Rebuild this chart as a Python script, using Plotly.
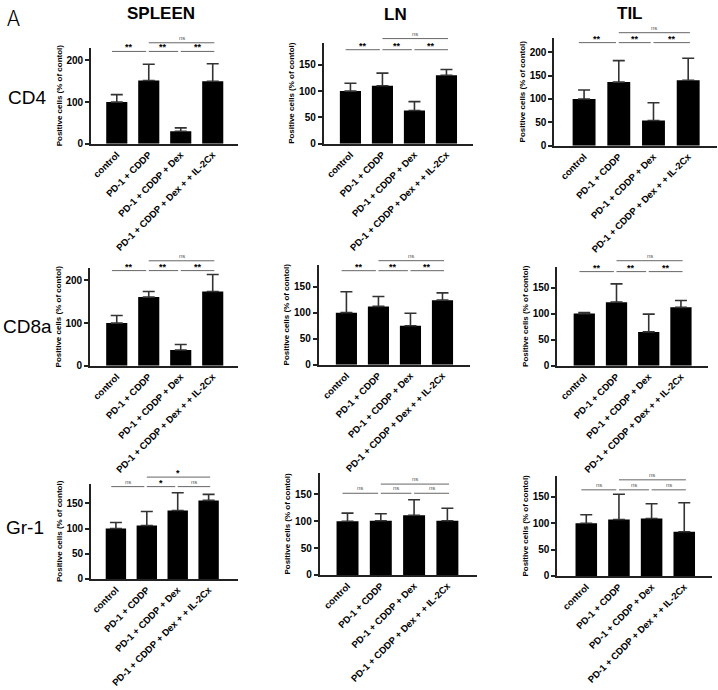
import plotly.graph_objects as go

categories = ["control", "PD-1 + CDDP", "PD-1 + CDDP + Dex", "PD-1 + CDDP + Dex + + IL-2Cx"]
tissues = ["SPLEEN", "LN", "TIL"]
markers = ["CD4", "CD8a", "Gr-1"]

# means and upper error-bar ends (% of control)
cd4_spleen_mean = [100, 152, 30, 150]
cd4_spleen_upper = [118, 191, 38, 192]
cd4_ln_mean = [100, 110, 63, 130]
cd4_ln_upper = [115, 134, 80, 141]
cd4_til_mean = [100, 136, 54, 140]
cd4_til_upper = [119, 182, 92, 187]

cd8a_spleen_mean = [100, 161, 37, 174]
cd8a_spleen_upper = [118, 174, 50, 214]
cd8a_ln_mean = [100, 112, 75, 124]
cd8a_ln_upper = [140, 131, 99, 138]
cd8a_til_mean = [100, 122, 65, 112]
cd8a_til_upper = [102, 157, 99, 125]

gr1_spleen_mean = [100, 106, 136, 156]
gr1_spleen_upper = [112, 134, 171, 168]
gr1_ln_mean = [100, 101, 111, 101]
gr1_ln_upper = [115, 114, 140, 124]
gr1_til_mean = [100, 107, 109, 84]
gr1_til_upper = [116, 155, 137, 139]

sig_main = [(0, 1, "**", 0), (1, 2, "**", 0), (2, 3, "**", 0), (1, 3, "ns", 1)]
sig_gr1_spleen = [(0, 1, "ns", 0), (1, 2, "*", 0), (2, 3, "ns", 0), (1, 3, "*", 1)]
sig_gr1_other = [(0, 1, "ns", 0), (1, 2, "ns", 0), (2, 3, "ns", 0), (1, 3, "ns", 1)]

data_panels = [
    (cd4_spleen_mean, cd4_spleen_upper, sig_main),
    (cd4_ln_mean, cd4_ln_upper, sig_main),
    (cd4_til_mean, cd4_til_upper, sig_main),
    (cd8a_spleen_mean, cd8a_spleen_upper, sig_main),
    (cd8a_ln_mean, cd8a_ln_upper, sig_main),
    (cd8a_til_mean, cd8a_til_upper, sig_main),
    (gr1_spleen_mean, gr1_spleen_upper, sig_gr1_spleen),
    (gr1_ln_mean, gr1_ln_upper, sig_gr1_other),
    (gr1_til_mean, gr1_til_upper, sig_gr1_other),
]

# layout (pixels): x0, x1, ytop, ybottom
W, H = 718, 690
boxes = [
    (90, 237, 48, 145), (323, 473, 43, 145), (554, 717, 38, 147),
    (89, 237, 270, 369), (318, 470, 267, 368), (557, 708, 269, 369),
    (90, 237, 488, 584), (319, 477, 477, 580), (557, 712, 480, 581),
]
xranges = [
    (-0.81, 3.78), (-0.84, 3.84), (-0.86, 3.83),
    (-0.84, 3.78), (-0.87, 3.87), (-0.84, 3.84),
    (-0.81, 3.94), (-0.84, 3.9), (-0.89, 3.85),
]
ytops = [231, 192, 231, 230, 192, 190, 189, 190, 190]
dticks = [100, 50, 50, 100, 50, 50, 50, 50, 50]
sig_y = [
    (0.96, 1.05), (0.93, 1.04), (0.954, 1.046),
    (0.97, 1.07), (0.94, 1.04), (0.95, 1.06),
    (0.97, 1.07), (0.80, 0.89), (0.86, 0.96),
]

FONT = "Liberation Sans"
AXC = "#222222"
fig = go.Figure()
layout = dict(
    width=W, height=H, margin=dict(l=0, r=0, t=0, b=0),
    plot_bgcolor="white", paper_bgcolor="white", showlegend=False,
    font=dict(family=FONT, color="black"),
)
shapes = []
annotations = []
xs = [0, 1, 2, 3]

for i, ((mean, upper, sigs), box, xr, yt, dt, sy) in enumerate(
        zip(data_panels, boxes, xranges, ytops, dticks, sig_y)):
    n = "" if i == 0 else str(i + 1)
    xa, ya = "x" + n, "y" + n
    err = [u - m for u, m in zip(upper, mean)]
    fig.add_trace(go.Bar(
        x=xs, y=mean, width=0.66, marker=dict(color="black", line=dict(width=0)),
        error_y=dict(type="data", symmetric=False, array=err, arrayminus=[0] * 4,
                     color="#333333", thickness=1.6, width=6),
        xaxis=xa, yaxis=ya,
    ))
    x0, x1, yt_px, yb_px = box
    layout["xaxis" + n] = dict(
        domain=[x0 / W, x1 / W], anchor=ya, range=list(xr),
        tickvals=xs, ticktext=categories, tickangle=-45,
        tickfont=dict(family=FONT, size=9.5, weight="bold", color="black"),
        showline=True, linecolor=AXC, linewidth=1.6, ticks="", showgrid=False,
        zeroline=False, fixedrange=True,
    )
    layout["yaxis" + n] = dict(
        domain=[1 - yb_px / H, 1 - yt_px / H], anchor=xa, range=[0, yt],
        dtick=dt, tick0=0,
        tickfont=dict(family=FONT, size=10, weight="bold", color="black"),
        showline=True, linecolor=AXC, linewidth=1.6, ticks="outside",
        ticklen=4, tickwidth=1.6, tickcolor=AXC, showgrid=False, zeroline=False,
        title=dict(text="Positive cells (% of contol)", standoff=3,
                   font=dict(family=FONT, size=8, weight="bold", color="black")),
    )
    for a, b, lab, lev in sigs:
        yv = sy[lev]
        xa0 = a - 0.15 if a == 0 else a + 0.0
        xb1 = b + 0.05 if b == 3 else b - 0.08
        shapes.append(dict(type="line", xref=xa, yref=ya + " domain",
                           x0=xa0, x1=xb1, y0=yv, y1=yv,
                           line=dict(color="#666666", width=1)))
        if lab == "ns":
            annotations.append(dict(text="ns", xref=xa, yref=ya + " domain",
                                    x=(xa0 + xb1) / 2, y=yv, yanchor="bottom",
                                    showarrow=False, yshift=0,
                                    font=dict(family=FONT, size=6, color="#555555")))
        else:
            annotations.append(dict(text=lab, xref=xa, yref=ya + " domain",
                                    x=(xa0 + xb1) / 2, y=yv, yanchor="bottom",
                                    showarrow=False, yshift=-3,
                                    font=dict(family=FONT, size=9, weight="bold",
                                              color="black")))

# Column and row headers
col_pos = [(160, 14), (395, 15), (630, 14)]
for t, (px, py) in zip(tissues, col_pos):
    annotations.append(dict(text=t, xref="paper", yref="paper", x=px / W, y=1 - py / H,
                            xanchor="center", yanchor="middle", showarrow=False,
                            font=dict(family=FONT, size=17, weight="bold", color="black")))
row_pos = [(26, 98), (27, 329), (24, 532)]
for t, (px, py) in zip(markers, row_pos):
    annotations.append(dict(text=t, xref="paper", yref="paper", x=px / W, y=1 - py / H,
                            xanchor="center", yanchor="middle", showarrow=False,
                            font=dict(family=FONT, size=19, color="black")))
annotations.append(dict(text="A", xref="paper", yref="paper", x=4 / W, y=1 - 16 / H,
                        xanchor="left", yanchor="middle", showarrow=False,
                        font=dict(family="Noto Sans CJK JP", size=22, weight=300,
                                  color="black")))

layout["shapes"] = shapes
layout["annotations"] = annotations
fig.update_layout(**layout)
fig.write_html("out.html", config={"displayModeBar": False},
               post_script="document.body.style.margin='0';document.body.style.overflow='hidden';")
